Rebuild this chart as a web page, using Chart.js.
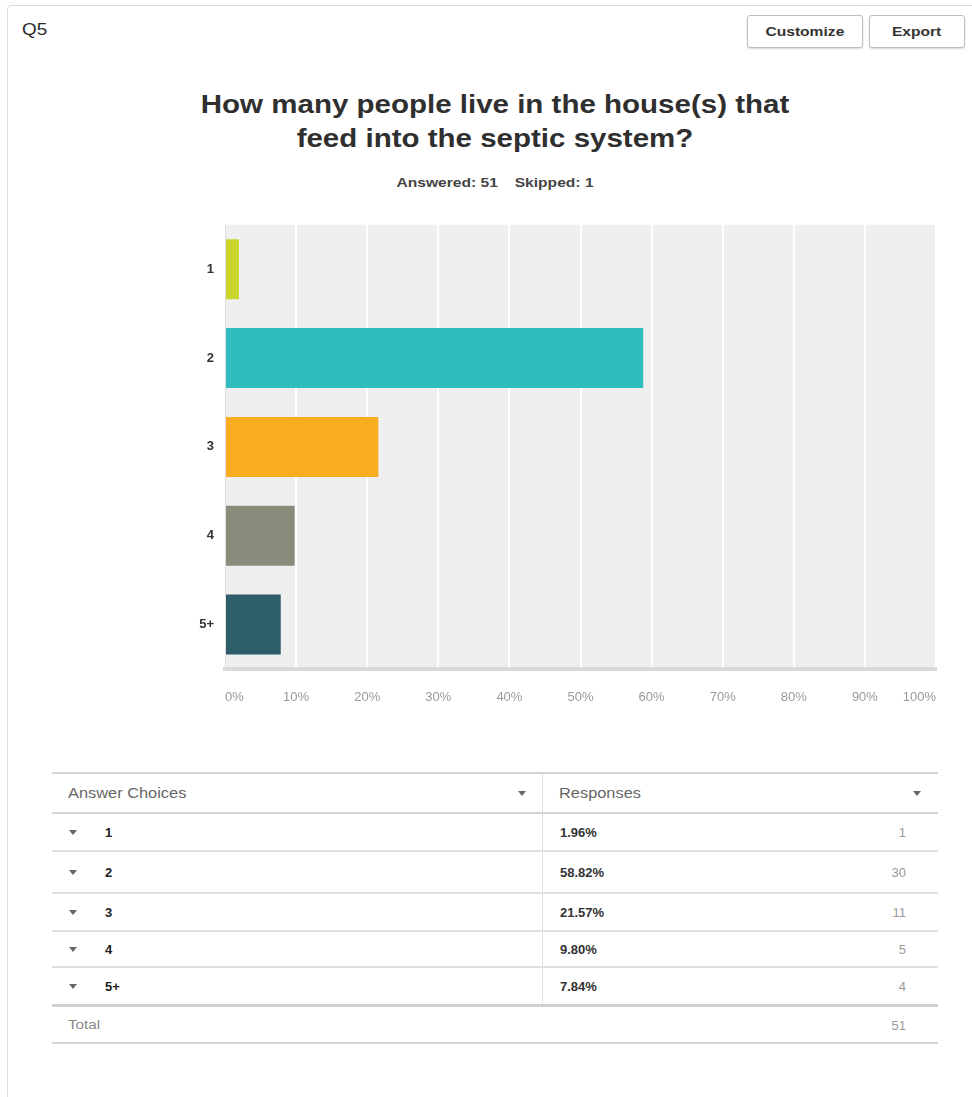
<!DOCTYPE html>
<html>
<head>
<meta charset="utf-8">
<script src="https://cdn.jsdelivr.net/npm/chart.js@4/dist/chart.umd.min.js"></script>
<style>
  html, body { margin: 0; padding: 0; background: #fff; }
  body { width: 972px; height: 1097px; position: relative; overflow: hidden;
         font-family: "Liberation Sans", Arial, Helvetica, sans-serif; }
  .frame { position: absolute; left: 7px; top: 5px; width: 980px; height: 1120px;
           border: 1px solid #dcdcdc; border-radius: 4px; }
  .wide { display: inline-block; transform: scaleX(1.18); transform-origin: left center; }
  .qnum { position: absolute; left: 22px; top: 21px; font-size: 16px; color: #2a2a2a; }
  .btn { position: absolute; top: 15px; height: 31px; border: 1px solid #bdbdbd; border-radius: 3px;
         background: #fff; box-shadow: 0 1px 2px rgba(0,0,0,0.15);
         font-size: 13px; font-weight: bold; color: #333; line-height: 31px; text-align: center; }
  .btn span { display: inline-block; transform: scaleX(1.2); }
  .title { position: absolute; left: 0; width: 990px; top: 87px; text-align: center;
           font-size: 25px; font-weight: bold; color: #2f2f2f; line-height: 34px;
           transform: scaleX(1.18); transform-origin: 495px 0; }
  .meta { position: absolute; left: 0; width: 990px; top: 175px; text-align: center;
          font-size: 13px; font-weight: bold; color: #444;
          transform: scaleX(1.2); transform-origin: 495px 0; }
  .meta span { margin: 0 7px; }
  #chartBox { position: absolute; left: 180px; top: 206px; width: 777px; height: 513px; }
  table { position: absolute; left: 52px; top: 772px; width: 886px; border-collapse: collapse; }
  td { height: 36px; padding: 0; font-size: 13px; vertical-align: middle; }
  tr.head td { height: 38px; color: #666; font-size: 14px; border-top: 2px solid #d4d4d4; border-bottom: 2px solid #d4d4d4; }
  tr.row td { border-bottom: 2px solid #e0e0e0; }
  tr.row:nth-child(3) td { height: 40px; }
  tr.row:nth-child(5) td { height: 34px; }
  tr.row td.c1 { color: #222; font-weight: bold; }
  tr.last td { border-bottom: 3px solid #d0d0d0; }
  tr.total td { border-bottom: 2px solid #d4d4d4; color: #888; height: 35px; }
  td.c1 { width: 490px; border-right: 1px solid #e0e0e0; position: relative; }
  tr.total td.c1 { border-right: none; }
  td.c2 { position: relative; }
  .arr { display: inline-block; width: 0; height: 0; border-left: 4px solid transparent;
         border-right: 4px solid transparent; border-top: 5px solid #666; vertical-align: middle; }
  .lbl1 { margin-left: 16px; display: inline-block; transform: scaleX(1.17); transform-origin: left center; }
  .rowlbl { position: absolute; left: 53px; top: 50%; transform: translateY(-50%); }
  .rowarr { position: absolute; left: 17px; top: 50%; margin-top: -2px; }
  .pct { padding-left: 17px; font-weight: bold; color: #333; }
  .cnt { position: absolute; right: 32px; top: 50%; transform: translateY(-50%); color: #999; font-weight: normal; }
  .harr { position: absolute; top: 50%; margin-top: -2px; }
</style>
</head>
<body>
<div class="frame"></div>
<div class="qnum"><span class="wide">Q5</span></div>
<div class="btn" style="left:747px;width:114px;"><span>Customize</span></div>
<div class="btn" style="left:869px;width:94px;"><span>Export</span></div>
<div class="title">How many people live in the house(s) that<br>feed into the septic system?</div>
<div class="meta"><span>Answered: 51</span><span>Skipped: 1</span></div>
<div id="chartBox"><canvas id="chart"></canvas></div>
<table id="tbl"></table>

<script>
// Answer choices and their response shares
const choices = ["1", "2", "3", "4", "5+"];
const percents = [1.96, 58.82, 21.57, 9.80, 7.84];
const counts = [1, 30, 11, 5, 4];
const totalAnswered = 51;
const barColors = ["#c9d52b", "#31bdbd", "#f7ad1f", "#8b8b7b", "#2d5e6a"];
const xTicks = [0, 10, 20, 30, 40, 50, 60, 70, 80, 90, 100];

// grey plot background behind the bars
const plotBackground = {
  id: 'plotBackground',
  beforeDraw(chart) {
    const a = chart.chartArea, ctx = chart.ctx;
    ctx.save();
    ctx.fillStyle = '#efefef';
    ctx.fillRect(a.left, a.top, a.right - a.left, a.bottom - a.top);
    ctx.restore();
  }
};

new Chart(document.getElementById('chart'), {
  type: 'bar',
  data: {
    labels: choices,
    datasets: [{
      data: percents,
      backgroundColor: barColors,
      borderWidth: 0,
      barPercentage: 0.675,
      categoryPercentage: 1
    }]
  },
  options: {
    indexAxis: 'y',
    responsive: true,
    maintainAspectRatio: false,
    animation: false,
    layout: { padding: { top: 9, right: 5, left: 0, bottom: 0 } },
    plugins: { legend: { display: false }, tooltip: { enabled: false }, title: { display: false } },
    scales: {
      x: {
        min: 0, max: 100,
        afterFit(scale) { scale.height = 50; },
        afterBuildTicks(scale) { scale.ticks = xTicks.map(v => ({ value: v })); },
        grid: {
          color: ctx => ctx.index === 0 ? 'rgba(0,0,0,0)' : '#ffffff',
          lineWidth: 2,
          drawTicks: false
        },
        border: { display: true, color: '#d9d9d9', width: 4 },
        ticks: {
          align: 'inner',
          padding: 21,
          color: '#9a9a9a',
          font: { family: '"Liberation Sans", Arial, sans-serif', size: 13 },
          callback: v => v + '%'
        }
      },
      y: {
        afterFit(scale) { scale.width = 45; },
        grid: { display: false, drawTicks: false },
        border: { display: true, color: '#dedede', width: 1 },
        ticks: {
          padding: 11,
          color: '#333',
          font: { family: '"Liberation Sans", Arial, sans-serif', size: 13, weight: 'bold' }
        }
      }
    }
  },
  plugins: [plotBackground]
});

// response table below the chart
const tbl = document.getElementById('tbl');
let html = '<tr class="head"><td class="c1"><span class="lbl1">Answer Choices</span>' +
  '<span class="arr harr" style="right:16px"></span></td>' +
  '<td class="c2"><span class="lbl1">Responses</span><span class="arr harr" style="right:17px"></span></td></tr>';
choices.forEach((c, i) => {
  const cls = i === choices.length - 1 ? 'row last' : 'row';
  html += '<tr class="' + cls + '"><td class="c1"><span class="arr rowarr"></span><span class="rowlbl">' + c + '</span></td>' +
    '<td class="c2"><span class="pct">' + percents[i].toFixed(2) + '%</span><span class="cnt">' + counts[i] + '</span></td></tr>';
});
html += '<tr class="total"><td class="c1"><span class="lbl1">Total</span></td><td class="c2"><span class="cnt">' + totalAnswered + '</span></td></tr>';
tbl.innerHTML = html;
</script>
</body>
</html>
